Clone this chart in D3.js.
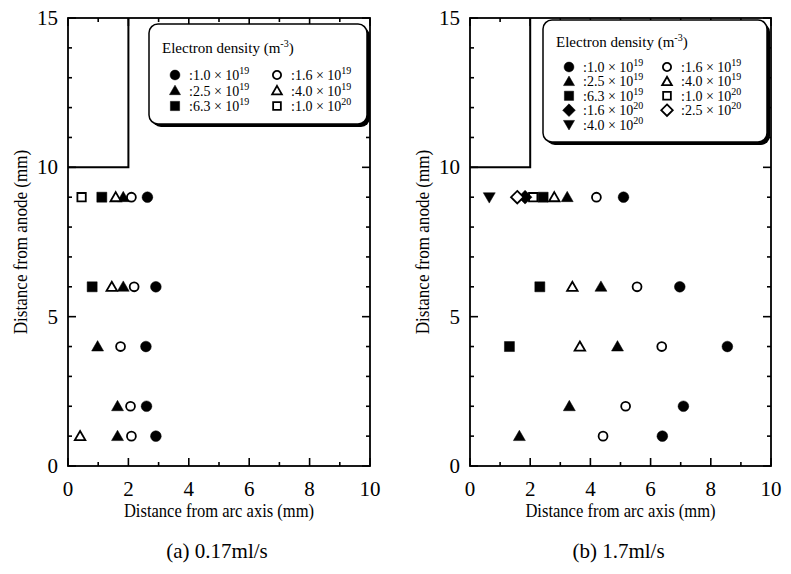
<!DOCTYPE html>
<html>
<head>
<meta charset="utf-8">
<script src="https://cdn.jsdelivr.net/npm/d3@7"></script>
<style>
  body { margin: 0; background: #fff; }
  text { font-family: "Liberation Serif", "DejaVu Serif", serif; fill: #000; }
</style>
</head>
<body>
<script>
const width = 791, height = 574;
const svg = d3.select("body").append("svg").attr("width", width).attr("height", height);

// electron density labels: [mantissa, exponent]
const densityLabels = [["1.0", "19"], ["1.6", "19"], ["2.5", "19"], ["4.0", "19"], ["6.3", "19"], ["1.0", "20"], ["1.6", "20"], ["2.5", "20"], ["4.0", "20"]];
const densityShapes = ["circle", "circle", "triangle", "triangle", "square", "square", "diamond", "diamond", "down"];
const densityFilled = [true, false, true, false, true, false, true, false, true];

// panel (a) 0.17ml/s : [distance from arc axis, distance from anode]
const a_1_0e19 = [[2.63, 9], [2.91, 6], [2.58, 4], [2.6, 2], [2.91, 1]];
const a_1_6e19 = [[2.1, 9], [2.19, 6], [1.74, 4], [2.07, 2], [2.1, 1]];
const a_2_5e19 = [[1.83, 9], [1.83, 6], [0.98, 4], [1.64, 2], [1.64, 1]];
const a_4_0e19 = [[1.58, 9], [1.45, 6], [0.4, 1]];
const a_6_3e19 = [[1.12, 9], [0.8, 6]];
const a_1_0e20 = [[0.45, 9]];

// panel (b) 1.7ml/s
const b_1_0e19 = [[5.1, 9], [6.97, 6], [8.55, 4], [7.09, 2], [6.39, 1]];
const b_1_6e19 = [[4.2, 9], [5.55, 6], [6.37, 4], [5.17, 2], [4.42, 1]];
const b_2_5e19 = [[3.23, 9], [4.35, 6], [4.9, 4], [3.3, 2], [1.64, 1]];
const b_4_0e19 = [[2.8, 9], [3.4, 6], [3.65, 4]];
const b_6_3e19 = [[2.43, 9], [2.32, 6], [1.31, 4]];
const b_1_0e20 = [[2.1, 9]];
const b_1_6e20 = [[1.83, 9]];
const b_2_5e20 = [[1.57, 9]];
const b_4_0e20 = [[0.64, 9]];

// anode outline
const anodeOutline = [[0, 10], [2, 10], [2, 15]];

const xTicks = [0, 2, 4, 6, 8, 10];
const yTicks = [0, 5, 10, 15];

const panels = [
  { left: 68, right: 370, caption: "(a) 0.17ml/s", series: [a_1_0e19, a_1_6e19, a_2_5e19, a_4_0e19, a_6_3e19, a_1_0e20],
    legend: { x: 149, y: 24, w: 218, h: 100, titleY: 53, rowY: 75, rowH: 15.5, col1: 175, col2: 277 } },
  { left: 470, right: 771, caption: "(b) 1.7ml/s", series: [b_1_0e19, b_1_6e19, b_2_5e19, b_4_0e19, b_6_3e19, b_1_0e20, b_1_6e20, b_2_5e20, b_4_0e20],
    legend: { x: 543, y: 20, w: 224, h: 122, titleY: 47, rowY: 67, rowH: 14.4, col1: 569, col2: 667 } }
];

// diamond drawn as a rotated square, closer to the printed marker
const diamondType = { draw(ctx, size) { const r = Math.sqrt(size / 2); ctx.moveTo(0, -r); ctx.lineTo(r, 0); ctx.lineTo(0, r); ctx.lineTo(-r, 0); ctx.closePath(); } };

function drawSymbol(g, i, x, y, scale) {
  const shape = densityShapes[i], filled = densityFilled[i];
  const types = { circle: d3.symbolCircle, triangle: d3.symbolTriangle, square: d3.symbolSquare, diamond: diamondType, down: d3.symbolTriangle };
  const base = { circle: filled ? 90 : 62, triangle: filled ? 62 : 48, square: filled ? 100 : 70, diamond: filled ? 95 : 78, down: 62 }[shape];
  g.append("path").attr("d", d3.symbol().type(types[shape]).size(base * scale)())
    .attr("transform", `translate(${x},${y + (shape === "triangle" ? 1 : shape === "down" ? -1 : 0)})${shape === "down" ? " rotate(180)" : ""}`)
    .attr("fill", filled ? "#000" : "#fff").attr("stroke", "#000").attr("stroke-width", filled ? 0.5 : 1.8);
}

panels.forEach(p => {
  const x = d3.scaleLinear().domain([0, 10]).range([p.left, p.right]);
  const y = d3.scaleLinear().domain([0, 15]).range([466, 18]);
  const g = svg.append("g");

  // inward ticks on all four sides
  const tick = (len, majorLen, step) => d => (d % step === 0 ? majorLen : len);
  const xt = d3.range(0, 11, 1), yt = d3.range(0, 16, 1);
  const xl = tick(4, 8, 2), yl = tick(4, 8, 5);
  g.selectAll(".xb").data(xt).join("line").attr("class", "xb")
    .attr("x1", d => x(d)).attr("x2", d => x(d)).attr("y1", y(0)).attr("y2", d => y(0) - xl(d));
  g.selectAll(".xt").data(xt).join("line").attr("class", "xt")
    .attr("x1", d => x(d)).attr("x2", d => x(d)).attr("y1", y(15)).attr("y2", d => y(15) + xl(d));
  g.selectAll(".yl").data(yt).join("line").attr("class", "yl")
    .attr("y1", d => y(d)).attr("y2", d => y(d)).attr("x1", x(0)).attr("x2", d => x(0) + yl(d));
  g.selectAll(".yr").data(yt).join("line").attr("class", "yr")
    .attr("y1", d => y(d)).attr("y2", d => y(d)).attr("x1", x(10)).attr("x2", d => x(10) - yl(d));
  g.selectAll("line").attr("stroke", "#000").attr("stroke-width", 1.6);

  g.append("rect").attr("x", x(0)).attr("y", y(15)).attr("width", x(10) - x(0)).attr("height", y(0) - y(15))
    .attr("fill", "none").attr("stroke", "#000").attr("stroke-width", 1.8);

  // anode outline
  g.append("path").attr("d", d3.line().x(d => x(d[0])).y(d => y(d[1]))(anodeOutline))
    .attr("fill", "none").attr("stroke", "#000").attr("stroke-width", 2);

  // tick labels
  g.selectAll(".xlab").data(xTicks).join("text").attr("class", "xlab")
    .attr("x", d => x(d)).attr("y", 496).attr("text-anchor", "middle").attr("font-size", 21).text(d => d);
  g.selectAll(".ylab").data(yTicks).join("text").attr("class", "ylab")
    .attr("x", x(0) - 10).attr("y", d => y(d) + 7).attr("text-anchor", "end").attr("font-size", 21).text(d => d);

  // axis titles
  const cx = (x(0) + x(10)) / 2;
  g.append("text").attr("text-anchor", "middle").attr("font-size", 18)
    .attr("transform", `translate(${cx},517) scale(0.92,1)`).text("Distance from arc axis (mm)");
  g.append("text").attr("transform", `translate(${p.left - 41},242) rotate(-90) scale(0.95,1)`).attr("text-anchor", "middle")
    .attr("font-size", 18).text("Distance from anode (mm)");
  g.append("text").attr("x", cx - 2).attr("y", 558).attr("text-anchor", "middle")
    .attr("font-size", 21).text(p.caption);

  // data points
  p.series.forEach((s, i) => {
    s.forEach(d => drawSymbol(g, i, x(d[0]), y(d[1]), 1));
  });

  // legend
  const L = p.legend;
  const lg = svg.append("g");
  lg.append("rect").attr("x", L.x + 3).attr("y", L.y + 3).attr("width", L.w).attr("height", L.h).attr("rx", 9).attr("fill", "#000");
  lg.append("rect").attr("x", L.x).attr("y", L.y).attr("width", L.w).attr("height", L.h).attr("rx", 9)
    .attr("fill", "#fff").attr("stroke", "#000").attr("stroke-width", 1.5);
  const title = lg.append("text").attr("x", L.x + 13).attr("y", L.titleY).attr("font-size", 15);
  title.append("tspan").text("Electron density (m");
  title.append("tspan").attr("dy", -6).attr("font-size", 10).text("-3");
  title.append("tspan").attr("dy", 6).text(")");
  p.series.forEach((s, i) => {
    const col = i % 2, row = Math.floor(i / 2);
    const sx = col === 0 ? L.col1 : L.col2, sy = L.rowY + row * L.rowH;
    drawSymbol(lg, i, sx, sy, 0.85);
    const t = lg.append("text").attr("x", sx + 14).attr("y", sy + 5).attr("font-size", 14);
    t.append("tspan").text(":" + densityLabels[i][0] + " \u00d7 10");
    t.append("tspan").attr("dy", -6).attr("font-size", 10).text(densityLabels[i][1]);
  });
});
</script>
</body>
</html>
